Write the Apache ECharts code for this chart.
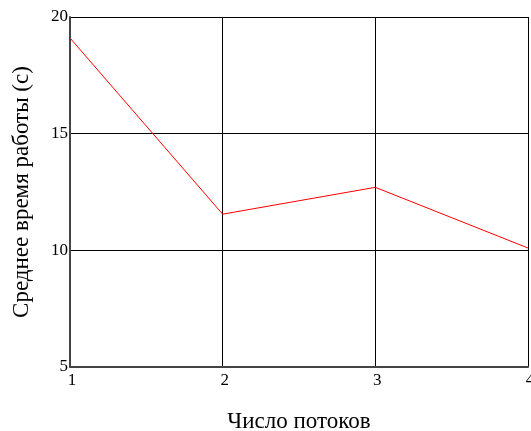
<!DOCTYPE html>
<html><head><meta charset="utf-8">
<script src="https://cdn.jsdelivr.net/npm/echarts@6/dist/echarts.min.js"></script>
<style>html,body{margin:0;padding:0;background:#fff}#c{width:531px;height:431px}</style>
</head><body><div id="c"></div>
<script>
const threads = [1, 2, 3, 4];
const avgTime = [19.1, 11.55, 12.7, 10.1];
const xTitle = 'Число потоков';
const yTitle = 'Среднее время работы (с)';

const chart = echarts.init(document.getElementById('c'), null, {renderer: 'canvas'});
chart.setOption({
  animation: false,
  backgroundColor: '#fff',
  grid: {left: 70, right: 3, top: 17, bottom: 64, containLabel: false, outerBoundsMode: 'none'},
  xAxis: {
    type: 'value', min: 1, max: 4, interval: 1,
    name: xTitle, nameLocation: 'middle', nameGap: 43,
    nameTextStyle: {fontFamily: 'Liberation Serif', fontSize: 23, color: '#000'},
    axisLine: {show: true, lineStyle: {color: '#444', width: 2}},
    axisTick: {show: false},
    axisLabel: {fontFamily: 'Liberation Serif', fontSize: 17, color: '#000', margin: 5, padding: [0, 0, 0, 4]},
    splitLine: {show: true, lineStyle: {color: '#000', width: 1}}
  },
  yAxis: {
    type: 'value', min: 5, max: 20, interval: 5,
    name: yTitle, nameLocation: 'middle', nameGap: 37,
    nameTextStyle: {fontFamily: 'Liberation Serif', fontSize: 23, color: '#000'},
    axisLine: {show: true, lineStyle: {color: '#444', width: 2}},
    axisTick: {show: false},
    axisLabel: {fontFamily: 'Liberation Serif', fontSize: 17, color: '#000', margin: 2},
    splitLine: {show: true, lineStyle: {color: '#000', width: 1}}
  },
  series: [{
    type: 'line',
    data: threads.map((t, i) => [t, avgTime[i]]),
    symbol: 'none',
    lineStyle: {color: '#ff0000', width: 1},
    clip: false
  }]
});
</script></body></html>
